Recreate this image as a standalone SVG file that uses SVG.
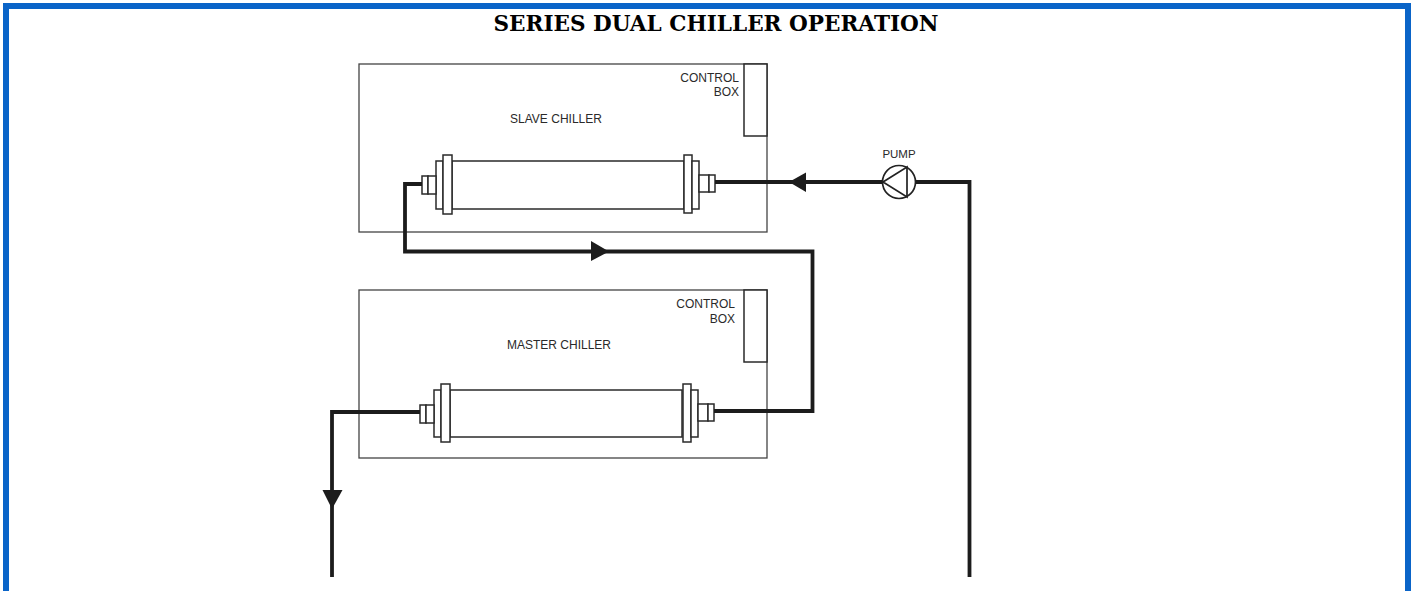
<svg xmlns="http://www.w3.org/2000/svg" width="1412" height="591" viewBox="0 0 1412 591">
<style>
.frame{fill:none;stroke:#0a64c8;stroke-width:6}
.box{fill:none;stroke:#444;stroke-width:1.3}
.part{fill:#fff;stroke:#2a2a2a;stroke-width:1.5}
.pipe{fill:none;stroke:#1c1c1c;stroke-width:3.8}
.head{fill:#1c1c1c}
.lbl{font-family:"Liberation Sans",Arial,sans-serif;font-size:12px;fill:#2a2a2a}
.title{font-family:"DejaVu Serif","Liberation Serif",serif;font-weight:bold;font-size:23px;fill:#000}
</style>
<rect width="1412" height="591" fill="#fff"/>
<path class="frame" d="M6 591V6H1408V591"/>
<text class="title" x="716" y="31" text-anchor="middle" textLength="445" lengthAdjust="spacingAndGlyphs">SERIES DUAL CHILLER OPERATION</text>
<g id="slave-chiller">
<rect class="box" x="359" y="64" width="408" height="168"/>
<rect class="part" x="744" y="64" width="23" height="72"/>
<text class="lbl" x="739" y="82" text-anchor="end">CONTROL</text>
<text class="lbl" x="739" y="96" text-anchor="end">BOX</text>
<text class="lbl" x="556" y="123" text-anchor="middle">SLAVE CHILLER</text>
<rect class="part" x="452" y="161" width="232" height="48"/>
<rect class="part" x="436" y="161" width="7" height="48"/>
<rect class="part" x="443" y="155" width="9" height="59"/>
<rect class="part" x="422" y="176" width="6" height="18"/>
<rect class="part" x="428" y="176" width="8" height="18"/>
<rect class="part" x="684" y="155" width="8" height="58"/>
<rect class="part" x="692" y="161" width="7" height="48"/>
<rect class="part" x="699" y="175" width="10" height="17"/>
<rect class="part" x="709" y="175" width="6" height="17"/>
</g>
<g id="master-chiller">
<rect class="box" x="359" y="290" width="408" height="168"/>
<rect class="part" x="744" y="290" width="23" height="72"/>
<text class="lbl" x="735" y="308" text-anchor="end">CONTROL</text>
<text class="lbl" x="735" y="323" text-anchor="end">BOX</text>
<text class="lbl" x="559" y="349" text-anchor="middle">MASTER CHILLER</text>
<rect class="part" x="450" y="390" width="232" height="47"/>
<rect class="part" x="434" y="390" width="7" height="47"/>
<rect class="part" x="441" y="384" width="9" height="58"/>
<rect class="part" x="420" y="405" width="6" height="18"/>
<rect class="part" x="426" y="405" width="8" height="18"/>
<rect class="part" x="683" y="384" width="8" height="58"/>
<rect class="part" x="691" y="390" width="7" height="47"/>
<rect class="part" x="698" y="404" width="10" height="17"/>
<rect class="part" x="708" y="404" width="6" height="17"/>
</g>
<g id="pump">
<circle cx="899" cy="182" r="16.500" fill="#fff" stroke="#222" stroke-width="1.7"/>
<path d="M883 182L907 167V197Z" fill="none" stroke="#222" stroke-width="1.7"/>
<text class="lbl" x="899" y="158" text-anchor="middle" style="font-size:11.500px">PUMP</text>
</g>
<g id="connectors">
<path class="pipe" d="M715 182H882"/>
<path class="pipe" d="M916 182H969.500V577"/>
<path class="pipe" d="M422 184H405V251.500H812.500V411H714"/>
<path class="pipe" d="M420 412H332V577"/>
<path class="head" d="M789 182L806 172.500V192Z"/>
<path class="head" d="M609 251.500L591 241V261Z"/>
<path class="head" d="M332 509L322.500 490H342.500Z"/>
</g>
</svg>
